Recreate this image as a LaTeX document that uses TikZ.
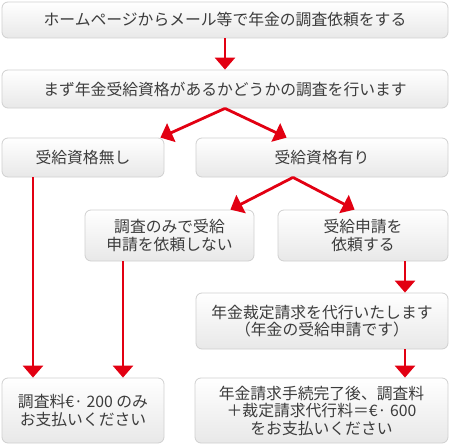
\documentclass[tikz,border=0pt]{standalone}
\usepackage{fontspec}
\setmainfont{Noto Sans CJK JP}
\usetikzlibrary{arrows.meta}
\usetikzlibrary{positioning}
\definecolor{flowred}{RGB}{226,0,18}
\definecolor{boxline}{RGB}{208,208,208}
\definecolor{boxtext}{RGB}{60,60,60}
\tikzset{flowbox/.style={ % Sets the properties for each box
           draw=boxline,
           thick,
           rounded corners=6pt,
           top color=white,
           bottom color=black!9,
           text=boxtext,
           align=center,
           inner sep=0pt,
           font=\fontsize{15.8}{17.5}\selectfont},
         wide/.style={minimum width=446pt},  % full row
         half/.style={minimum width=252pt},  % right column
         small/.style={minimum width=162pt}} % left column

\begin{document}
\begin{tikzpicture}[x=1pt,y=-1pt]
\useasboundingbox (0,0) rectangle (450,444);
\begin{scope}[every node/.style={flowbox}]
    \node[wide,minimum height=36pt] (request) at (225,20) {ホームページからメール等で年金の調査依頼をする};
    \node[wide,minimum height=38pt] (check) at (225,89) {まず年金受給資格があるかどうかの調査を行います};
    \node[small,minimum height=39pt] (none) at (83,157.5) {受給資格無し};
    \node[half,minimum height=39pt] (has) at (322,157.5) {受給資格有り};
    \node[minimum width=169pt,minimum height=51pt] (only) at (169.5,235.5) {調査のみで受給\\申請を依頼しない};
    \node[minimum width=170pt,minimum height=51pt] (apply) at (363,235.5) {受給申請を\\依頼する};
    \node[half,minimum height=56pt] (proxy) at (322,321) {年金裁定請求を代行いたします\\（年金の受給申請です）};
    \node[small,minimum height=65pt] (fee) at (83,410.5) {調査料€· 200 のみ\\お支払いください};
    \node[minimum width=253pt,minimum height=65pt] (total) at (321.5,410.5) {年金請求手続完了後、調査料\\＋裁定請求代行料＝€· 600\\をお支払いください};
\end{scope}

\begin{scope}[>={Triangle[width=20pt,length=12pt]},
              every edge/.style={draw=flowred,line width=2.8pt,->}]
    \path (request) edge (check);
    \path (check.south) edge ([xshift=-4pt]none.north east);
    \path (check.south) edge ([xshift=91pt]has.north west);
    \path ([xshift=-29pt]has.south) edge ([xshift=-24pt]only.north east);
    \path ([xshift=-29pt]has.south) edge ([xshift=77pt]apply.north west);
    \path ([xshift=42pt]apply.south) edge ([xshift=83pt]proxy.north);
    \path ([xshift=83pt]proxy.south) edge ([xshift=83.5pt]total.north);
    \path ([xshift=-50pt]none.south) edge ([xshift=-50pt]fee.north);
    \path ([xshift=-46.5pt]only.south) edge ([xshift=40pt]fee.north);
\end{scope}
\end{tikzpicture}
\end{document}
